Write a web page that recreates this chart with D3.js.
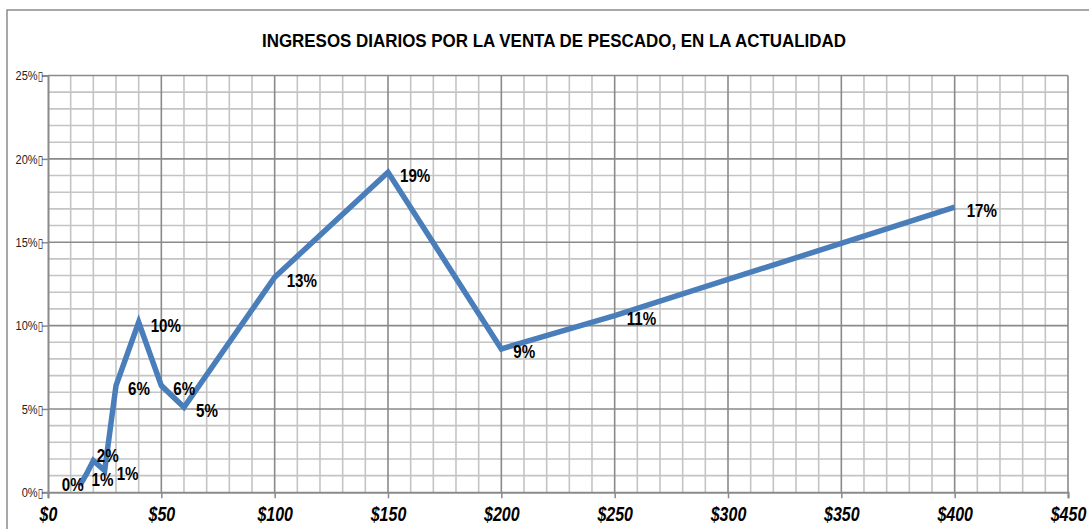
<!DOCTYPE html>
<html><head><meta charset="utf-8">
<script src="https://cdn.jsdelivr.net/npm/d3@7/dist/d3.min.js"></script>
<style>
html,body{margin:0;padding:0;background:#fff;}
svg{display:block;}
</style></head>
<body>
<svg id="chart" width="1089" height="529"></svg>
<script>
const title = "INGRESOS DIARIOS POR LA VENTA DE PESCADO, EN LA ACTUALIDAD";
const ingresos = [14, 17, 20, 25, 30, 40, 50, 60, 100, 150, 200, 250, 400];
const porcentajes = [0.4, 1.1, 1.9, 1.3, 6.4, 10.2, 6.4, 5.1, 12.9, 19.2, 8.6, 10.6, 17.1];
const labelPlacement = ["left", "belowRight", "aboveRight", "right", "right", "right", "right", "right", "right", "right", "right", "right", "right"];
const xTicks = [0, 50, 100, 150, 200, 250, 300, 350, 400, 450];
const yTicks = [0, 5, 10, 15, 20, 25];

const svg = d3.select("#chart");
const W = 1089, H = 529;
const m = {left: 48, right: 1068, top: 75.5, bottom: 492.3};
const font = "'Liberation Sans Narrow','Arial Narrow','Liberation Sans',Arial,sans-serif";
const SX = 0.82; // horizontal condensation to mimic a narrow typeface

// outer chart border
svg.append("rect").attr("x", 7).attr("y", 10).attr("width", W + 20).attr("height", H + 20)
  .attr("fill", "#fff").attr("stroke", "#8c8c8c").attr("stroke-width", 1.5);

const x = d3.scaleLinear().domain([0, 450]).range([m.left, m.right]);
const y = d3.scaleLinear().domain([0, 25]).range([m.bottom, m.top]);

// title
svg.append("text").attr("x", 262).attr("y", 47)
  .attr("textLength", 584).attr("lengthAdjust", "spacingAndGlyphs")
  .attr("font-family", font).attr("font-weight", "bold").attr("font-size", 18.5)
  .attr("fill", "#000").text(title);

// grid
const g = svg.append("g");
const minorX = d3.range(0, 451, 10).filter(v => v % 50 !== 0);
const minorY = d3.range(0, 26, 1).filter(v => v % 5 !== 0);
g.selectAll(".mx").data(minorX).join("line")
  .attr("x1", d => x(d)).attr("x2", d => x(d)).attr("y1", m.top).attr("y2", m.bottom)
  .attr("stroke", "#c4c4c4").attr("stroke-width", 1.6);
g.selectAll(".my").data(minorY).join("line")
  .attr("x1", m.left).attr("x2", m.right).attr("y1", d => y(d)).attr("y2", d => y(d))
  .attr("stroke", "#c4c4c4").attr("stroke-width", 1.6);
g.selectAll(".Mx").data(xTicks.slice(1)).join("line")
  .attr("x1", d => x(d)).attr("x2", d => x(d)).attr("y1", m.top).attr("y2", m.bottom)
  .attr("stroke", "#8a8a8a").attr("stroke-width", 1.6);
g.selectAll(".My").data(yTicks.slice(1)).join("line")
  .attr("x1", m.left).attr("x2", m.right).attr("y1", d => y(d)).attr("y2", d => y(d))
  .attr("stroke", "#8a8a8a").attr("stroke-width", 1.6);

// axes
const xAxis = svg.append("g").attr("transform", `translate(0,${m.bottom})`)
  .call(d3.axisBottom(x).tickValues(xTicks).tickSize(6).tickPadding(9).tickFormat(d => "$" + d));
xAxis.select(".domain").attr("stroke", "#8a8a8a").attr("stroke-width", 2);
xAxis.selectAll(".tick line").attr("stroke", "#8a8a8a").attr("stroke-width", 1.5);
xAxis.selectAll("text").attr("font-family", font).attr("font-weight", "bold")
  .attr("font-style", "italic").attr("font-size", 19.5).attr("fill", "#000")
  .attr("transform", `scale(${SX},1)`);

const yAxis = svg.append("g").attr("transform", `translate(${m.left},0)`)
  .call(d3.axisLeft(y).tickValues(yTicks).tickSize(6).tickPadding(0).tickFormat(d => d + "%"));
yAxis.select(".domain").attr("stroke", "#8a8a8a").attr("stroke-width", 2);
yAxis.selectAll(".tick line").attr("stroke", "#8a8a8a").attr("stroke-width", 1.5);
yAxis.selectAll("text").attr("font-family", font).attr("font-size", 13.5).attr("fill", "#222")
  .attr("transform", `scale(${SX},1)`)
  .append("tspan").attr("font-size", 12).attr("font-family", "'DejaVu Sans',sans-serif").text("▯");

// line
const data = ingresos.map((v, i) => ({x: v, y: porcentajes[i], pos: labelPlacement[i]}));
svg.append("path").datum(data)
  .attr("fill", "none").attr("stroke", "#4a7ebb").attr("stroke-width", 5.5)
  .attr("stroke-linejoin", "miter").attr("stroke-linecap", "butt")
  .attr("d", d3.line().x(d => x(d.x)).y(d => y(d.y)));

// labels
const fmt = d => Math.round(d) + "%";
const place = {
  right:      {dx: 12,  dy: 9.5,  anchor: "start"},
  left:       {dx: 4,   dy: 5.5,  anchor: "end"},
  belowRight: {dx: 5,   dy: 12.5, anchor: "start"},
  aboveRight: {dx: 3.5, dy: 1,    anchor: "start"}
};
svg.append("g").selectAll("text").data(data).join("text")
  .attr("transform", d => `translate(${x(d.x) + place[d.pos].dx},${y(d.y) + place[d.pos].dy}) scale(${SX},1)`)
  .attr("text-anchor", d => place[d.pos].anchor)
  .attr("font-family", font).attr("font-weight", "bold").attr("font-size", 18.5)
  .attr("fill", "#000").text(d => fmt(d.y));
</script>
</body></html>
